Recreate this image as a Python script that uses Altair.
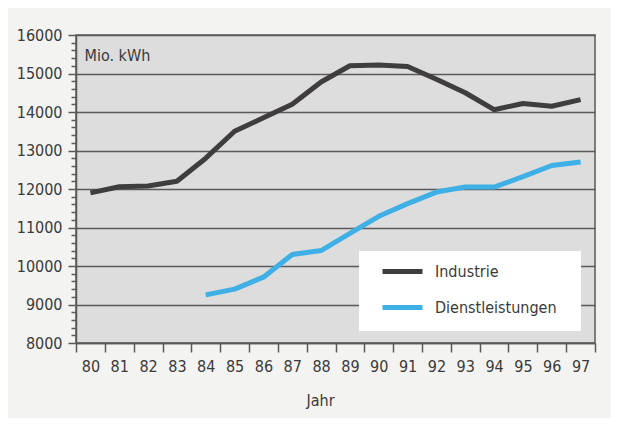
import altair as alt
import pandas as pd

years = ["80", "81", "82", "83", "84", "85", "86", "87", "88", "89",
         "90", "91", "92", "93", "94", "95", "96", "97"]
industrie = [11900, 12060, 12080, 12200, 12800, 13500, 13850, 14200, 14780,
             15200, 15220, 15180, 14850, 14500, 14060, 14220, 14150, 14320]
dienst_years = ["84", "85", "86", "87", "88", "89", "90", "91", "92", "93",
                "94", "95", "96", "97"]
dienst = [9250, 9400, 9710, 10300, 10400, 10850, 11290, 11620, 11920, 12050,
          12050, 12320, 12610, 12700]
series_names = ["Industrie", "Dienstleistungen"]
series_colors = ["#3f3d3e", "#3fb0e6"]
y_ticks = list(range(8000, 16001, 200))

rows = [{"Jahr": y, "Wert": v, "Reihe": series_names[0]} for y, v in zip(years, industrie)]
rows += [{"Jahr": y, "Wert": v, "Reihe": series_names[1]} for y, v in zip(dienst_years, dienst)]
df = pd.DataFrame(rows)

FONT = "DejaVu Sans Condensed, sans-serif"
TXT = "#3a3a3a"
FS = 16

lines = alt.Chart(df).mark_line(strokeWidth=5, strokeJoin="round").encode(
    x=alt.X("Jahr:O", sort=years, scale=alt.Scale(type="band", domain=years, paddingInner=0, paddingOuter=0),
            axis=alt.Axis(title="Jahr", labelAngle=0, tickBand="extent", tickSize=9,
                          labelPadding=6, titleX=244, titleY=62, titleAlign="center",
                          titleBaseline="alphabetic", grid=False)),
    y=alt.Y("Wert:Q", scale=alt.Scale(domain=[8000, 16000], nice=False, zero=False),
            axis=alt.Axis(title="Mio. kWh", values=y_ticks, format="d",
                          labelExpr="datum.value % 1000 === 0 ? datum.label : ''",
                          tickSize={"condition": {"test": "datum.value % 1000 === 0", "value": 8}, "value": 5},
                          gridOpacity={"condition": {"test": "datum.value % 1000 === 0", "value": 1}, "value": 0},
                          grid=True, labelPadding=6, titleAngle=0, titleAlign="left",
                          titleBaseline="alphabetic", titleX=8, titleY=25)),
    color=alt.Color("Reihe:N", sort=series_names,
                    scale=alt.Scale(domain=series_names, range=series_colors),
                    legend=alt.Legend(title=None, orient="none", legendX=304, legendY=214,
                                      padding=0, symbolType="stroke",
                                      symbolStrokeWidth=5, symbolSize=1600,
                                      labelOffset=10, rowPadding=3)),
)

box = alt.Chart(pd.DataFrame({"k": [0]})).mark_rect(color="white").encode(
    x=alt.value(283), x2=alt.value(505), y=alt.value(216), y2=alt.value(296)
)

chart = alt.layer(lines, box).properties(
    width=519, height=308,
    autosize=alt.AutoSizeParams(type="none"),
    padding={"left": 68, "top": 27, "right": 16, "bottom": 75},
    background="#f3f3f2",
).configure_view(
    fill="#dddddd", stroke="#5a5a5a", strokeWidth=1.5,
).configure_axis(
    labelFont=FONT, titleFont=FONT, labelFontSize=FS, titleFontSize=FS,
    labelColor=TXT, titleColor=TXT, titleFontWeight="normal",
    domainColor="#5a5a5a", domainWidth=1.5, tickColor="#5a5a5a", tickWidth=1.5,
    gridColor="#5a5a5a", gridWidth=1.5,
).configure_legend(
    labelFont=FONT, labelFontSize=FS, labelColor=TXT,
)

chart.save("out.html", embed_options={"renderer": "svg", "actions": False})
